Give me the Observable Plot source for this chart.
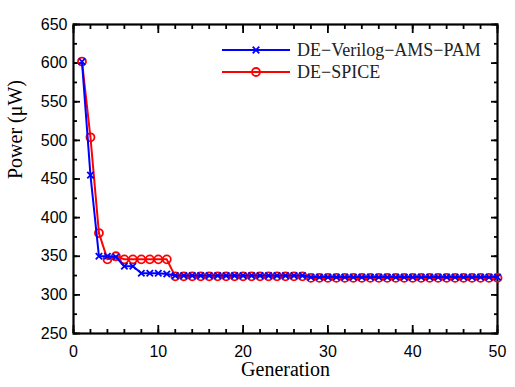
<!DOCTYPE html>
<html><head><meta charset="utf-8">
<script src="https://cdn.jsdelivr.net/npm/d3@7"></script>
<script src="https://cdn.jsdelivr.net/npm/@observablehq/plot@0.6"></script>
<style>body{margin:0;background:#fff}</style>
</head><body><div id="chart"></div>
<script>
const generations = [1,2,3,4,5,6,7,8,9,10,11,12,13,14,15,16,17,18,19,20,21,22,23,24,25,26,27,28,29,30,31,32,33,34,35,36,37,38,39,40,41,42,43,44,45,46,47,48,49,50];
const verilogPower = [602,455,350,350,349,337,337,328,328,328,327,325,325,325,325,325,325,325,325,325,325,325,325,325,325,325,325,323,323,323,323,323,323,323,323,323,323,323,323,323,323,323,323,323,323,323,323,323,323,323];
const spicePower   = [602,504,380,346,350,346,346,346,346,346,346,324,324,324,324,324,324,324,324,324,324,324,324,324,324,324,324,322,322,322,322,322,322,322,322,322,322,322,322,322,322,322,322,322,322,322,322,322,322,322];
const xMajor = [0,10,20,30,40,50];
const xMinor = [0,2,4,6,8,10,12,14,16,18,20,22,24,26,28,30,32,34,36,38,40,42,44,46,48,50];
const yMajor = [250,300,350,400,450,500,550,600,650];
const yMinor = [250,275,300,325,350,375,400,425,450,475,500,525,550,575,600,625,650];
const seriesNames = ["DE\u2212Verilog\u2212AMS\u2212PAM", "DE\u2212SPICE"];

const verilog = generations.map((g, i) => ({g, p: verilogPower[i]}));
const spice = generations.map((g, i) => ({g, p: spicePower[i]}));
const blank = () => "";
const tickStyle = {strokeWidth: 1.8};

const chart = Plot.plot({
  width: 515, height: 387,
  marginLeft: 73, marginRight: 18, marginTop: 24, marginBottom: 54,
  style: {fontFamily: "'Liberation Sans', Arial, sans-serif", fontSize: "16px", color: "black", background: "white"},
  x: {domain: [0, 50]},
  y: {domain: [250, 650]},
  marks: [
    Plot.axisX(xMinor, {anchor: "bottom", tickSize: -4, tickFormat: blank, label: null, ...tickStyle}),
    Plot.axisX(xMajor, {anchor: "bottom", tickSize: -8, tickPadding: 20, label: null, ...tickStyle}),
    Plot.axisX(xMinor, {anchor: "top", tickSize: -4, tickFormat: blank, label: null, ...tickStyle}),
    Plot.axisX(xMajor, {anchor: "top", tickSize: -8, tickFormat: blank, label: null, ...tickStyle}),
    Plot.axisY(yMinor, {anchor: "left", tickSize: -4, tickFormat: blank, label: null, ...tickStyle}),
    Plot.axisY(yMajor, {anchor: "left", tickSize: -7, tickPadding: 13, label: null, ...tickStyle}),
    Plot.axisY(yMinor, {anchor: "right", tickSize: -4, tickFormat: blank, label: null, ...tickStyle}),
    Plot.axisY(yMajor, {anchor: "right", tickSize: -7, tickFormat: blank, label: null, ...tickStyle}),
    Plot.frame({stroke: "black", strokeWidth: 2.2}),
    Plot.text(["Generation"], {frameAnchor: "bottom", dy: 42, fontFamily: "'Liberation Serif', 'Times New Roman', serif", fontSize: 20}),
    Plot.text(["Power (\u03bcW)"], {frameAnchor: "left", dx: -58, rotate: -90, fontFamily: "'Liberation Serif', 'Times New Roman', serif", fontSize: 20}),
    Plot.line(spice, {x: "g", y: "p", stroke: "#ff0000", strokeWidth: 2}),
    Plot.dot(spice, {x: "g", y: "p", r: 4, stroke: "#ff0000", fill: "none", strokeWidth: 1.8}),
    Plot.line(verilog, {x: "g", y: "p", stroke: "#0000ff", strokeWidth: 2}),
    Plot.dot(verilog, {x: "g", y: "p", symbol: "times", r: 3, stroke: "#0000ff", strokeWidth: 1.8})
  ]
});
document.getElementById("chart").appendChild(chart);

// legend
const svg = d3.select(chart);
const lg = svg.append("g")
  .attr("font-family", "'Liberation Serif', 'Times New Roman', serif")
  .attr("font-size", 18)
  .attr("text-anchor", "start");
const colors = ["#0000ff", "#ff0000"];
seriesNames.forEach((name, i) => {
  const y = 50 + i * 22;
  lg.append("line").attr("x1", 222).attr("x2", 290).attr("y1", y).attr("y2", y).attr("stroke", colors[i]).attr("stroke-width", 2);
  if (i === 0) {
    lg.append("path").attr("d", d3.symbol(d3.symbolTimes, 30)()).attr("transform", `translate(256,${y})`).attr("stroke", colors[i]).attr("stroke-width", 1.8).attr("fill", "none");
  } else {
    lg.append("circle").attr("cx", 256).attr("cy", y).attr("r", 4).attr("stroke", colors[i]).attr("fill", "none").attr("stroke-width", 1.8);
  }
  lg.append("text").attr("x", 297).attr("y", y).attr("dy", "0.35em").attr("fill", "#222").attr("text-anchor", "start").text(name);
});
</script>
</body></html>
